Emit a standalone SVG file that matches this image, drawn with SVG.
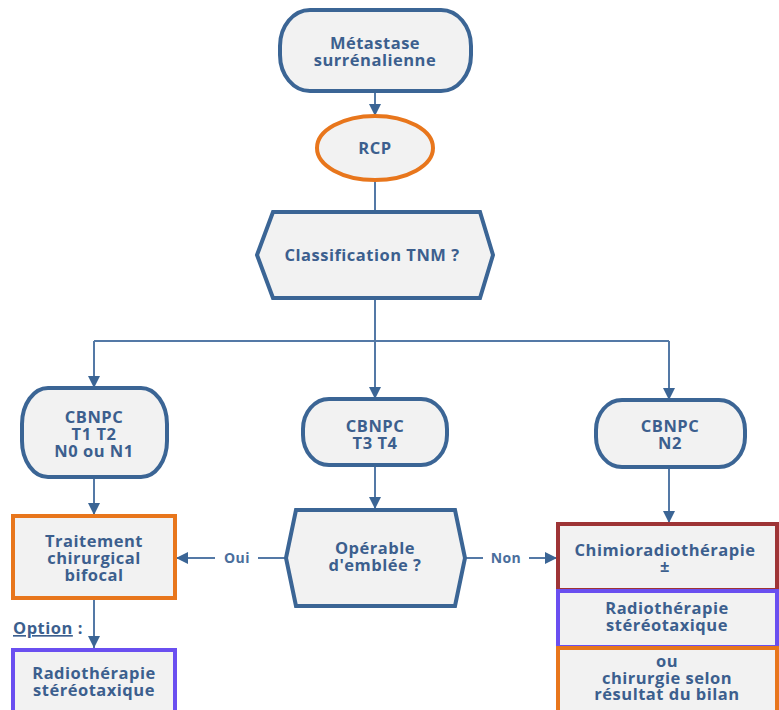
<svg xmlns="http://www.w3.org/2000/svg" width="779" height="710" viewBox="0 0 779 710">
<style>
.n{fill:#f2f2f2;stroke:#3b6595;stroke-width:4}
.or{fill:#f2f2f2;stroke:#e8761c;stroke-width:4}
.pu{fill:#f2f2f2;stroke:#6a4ff0;stroke-width:4}
.rd{fill:#f2f2f2;stroke:#9e3436;stroke-width:4}
.t{font-family:"Open Sans","Noto Sans","DejaVu Sans",sans-serif;font-weight:700;font-size:16.5px;letter-spacing:0.5px;fill:#3c5f8e;text-anchor:middle}
.l{font-family:"Open Sans","Noto Sans","DejaVu Sans",sans-serif;font-weight:700;font-size:14px;letter-spacing:0.4px;fill:#4a6e9c;text-anchor:middle}
.c{fill:none;stroke:#5479a6;stroke-width:2}
</style>
<defs>
<marker id="a" viewBox="0 0 10 10" refX="10" refY="5" markerWidth="6" markerHeight="6" orient="auto" markerUnits="strokeWidth">
<path d="M0,0 L10,5 L0,10 z" fill="#3b6595"/>
</marker>
</defs>
<rect width="779" height="710" fill="#ffffff"/>
<g id="connectors">
<path class="c" d="M375,92 V116" marker-end="url(#a)"/>
<path class="c" d="M375,181 V211"/>
<path class="c" d="M375,299 V399" marker-end="url(#a)"/>
<path class="c" d="M94,341 H669"/>
<path class="c" d="M94,341 V388" marker-end="url(#a)"/>
<path class="c" d="M669,341 V400" marker-end="url(#a)"/>
<path class="c" d="M94,478 V515" marker-end="url(#a)"/>
<path class="c" d="M375,466 V509" marker-end="url(#a)"/>
<path class="c" d="M669,468 V523" marker-end="url(#a)"/>
<path class="c" d="M94,599 V648" marker-end="url(#a)"/>
<path class="c" d="M286,558 H258 M215,558 H176" marker-end="url(#a)"/>
<text class="l" x="237" y="563">Oui</text>
<path class="c" d="M465,558 H483 M529,558 H557" marker-end="url(#a)"/>
<text class="l" x="506" y="563">Non</text>
<text x="13" y="634" style="font-family:'Open Sans','Noto Sans',sans-serif;font-weight:700;font-size:16.5px;letter-spacing:0.5px;fill:#3c5f8e"><tspan text-decoration="underline">Option</tspan> :</text>
</g>
<g id="metastase">
<rect class="n" x="280" y="10" width="191" height="81" rx="30" ry="36"/>
<text class="t" x="375" y="49">Métastase</text>
<text class="t" x="375" y="66">surrénalienne</text>
</g>
<g id="rcp">
<ellipse class="or" cx="375" cy="148" rx="58" ry="32"/>
<text class="t" x="375" y="154">RCP</text>
</g>
<g id="classification">
<polygon class="n" points="257,255 273,212 480,212 493,255 480,298 273,298"/>
<text class="t" x="372" y="261">Classification TNM ?</text>
</g>
<g id="cbnpc-t1t2">
<rect class="n" x="22" y="388" width="145" height="89" rx="26" ry="36"/>
<text class="t" x="94" y="423">CBNPC</text>
<text class="t" x="94" y="440">T1 T2</text>
<text class="t" x="94" y="457">N0 ou N1</text>
</g>
<g id="cbnpc-t3t4">
<rect class="n" x="303" y="399" width="144" height="66" rx="26" ry="30"/>
<text class="t" x="375" y="432">CBNPC</text>
<text class="t" x="375" y="449">T3 T4</text>
</g>
<g id="cbnpc-n2">
<rect class="n" x="596" y="400" width="149" height="67" rx="26" ry="30"/>
<text class="t" x="670" y="432">CBNPC</text>
<text class="t" x="670" y="449">N2</text>
</g>
<g id="traitement">
<rect class="or" x="13" y="516" width="162" height="82"/>
<text class="t" x="94" y="547">Traitement</text>
<text class="t" x="94" y="564">chirurgical</text>
<text class="t" x="94" y="581">bifocal</text>
</g>
<g id="operable">
<polygon class="n" points="286,558 296,510 455,510 465,558 455,606 296,606"/>
<text class="t" x="375" y="554">Opérable</text>
<text class="t" x="375" y="571">d'emblée ?</text>
</g>
<g id="radio-left">
<rect class="pu" x="13" y="650" width="162" height="70"/>
<text class="t" x="94" y="679">Radiothérapie</text>
<text class="t" x="94" y="696">stéréotaxique</text>
</g>
<g id="chimio">
<rect class="rd" x="558" y="524" width="219" height="66"/>
<text class="t" x="665" y="556">Chimioradiothérapie</text>
<text class="t" x="665" y="572">±</text>
</g>
<g id="radio-right">
<rect class="pu" x="558" y="591" width="219" height="56"/>
<text class="t" x="667" y="614">Radiothérapie</text>
<text class="t" x="667" y="631">stéréotaxique</text>
</g>
<g id="chirurgie">
<rect class="or" x="558" y="648" width="219" height="70"/>
<text class="t" x="667" y="667">ou</text>
<text class="t" x="667" y="684">chirurgie selon</text>
<text class="t" x="667" y="700">résultat du bilan</text>
</g>
</svg>
